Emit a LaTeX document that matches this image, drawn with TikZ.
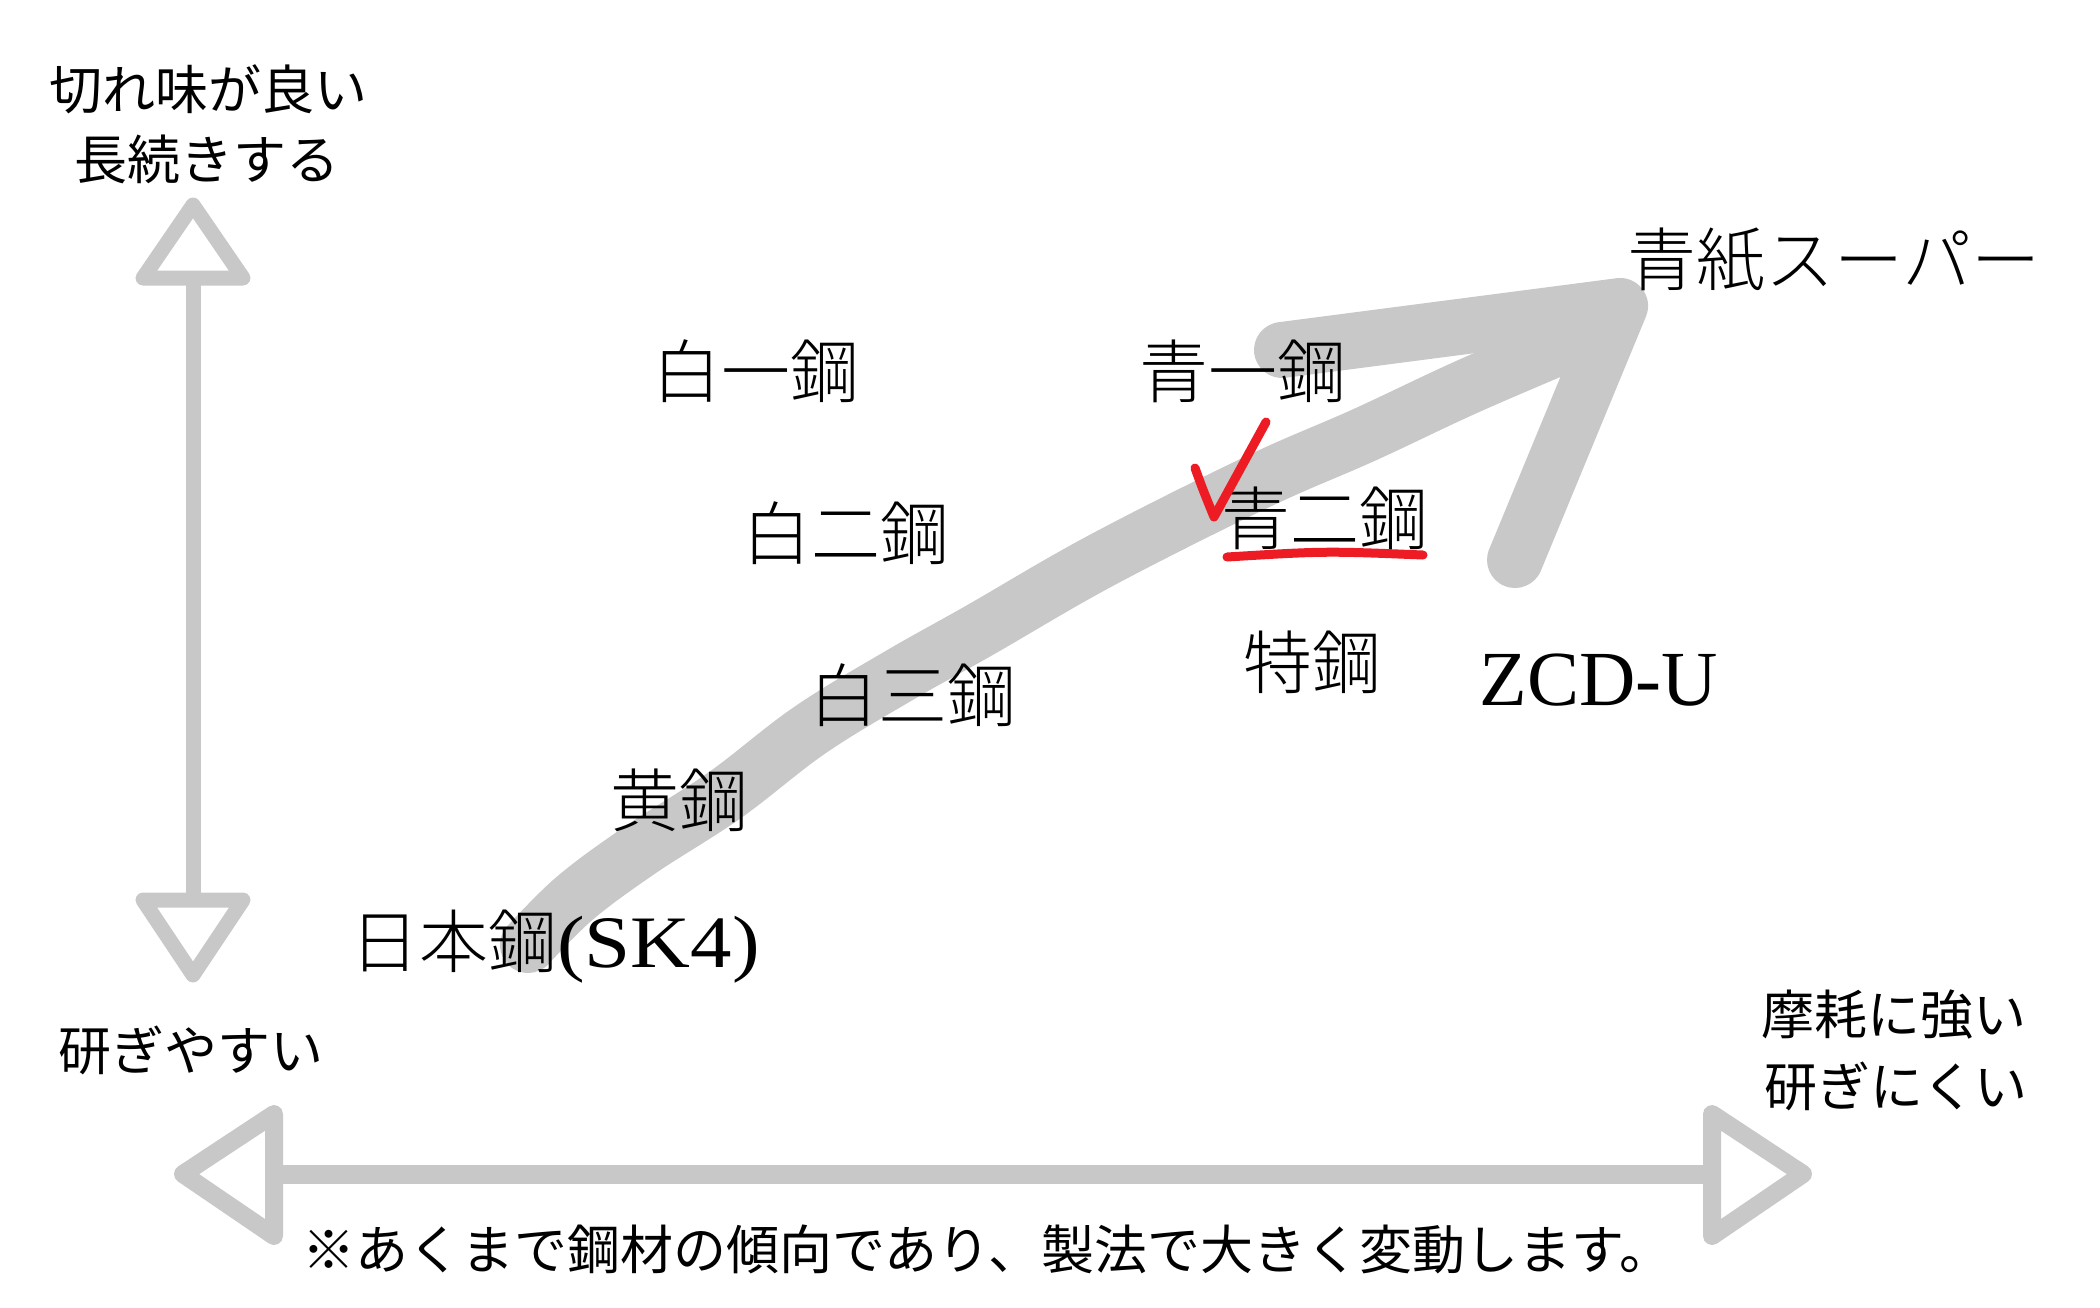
\documentclass[tikz,border=0pt]{standalone}
\usepackage{fontspec}
\newfontfamily\jp{Noto Sans CJK JP}
\newfontfamily\jpl{Noto Sans CJK JP}[UprightFont=* Light]
\newfontfamily\lat{Liberation Serif}
\newfontfamily\latw{Liberation Serif}[FakeStretch=1.12]
\definecolor{brush}{RGB}{200,200,200}
\definecolor{redmark}{RGB}{237,28,36}
\begin{document}
\begin{tikzpicture}[x=1pt,y=-1pt,
  axisline/.style={draw=brush,line width=#1,line cap=butt},
  headtri/.style={draw=brush,fill=white,line width=#1,line join=round},
  notetext/.style={font=\jp\fontsize{53}{60}\selectfont,inner sep=0},
  steeltext/.style={font=\jpl\fontsize{69}{80}\selectfont,inner sep=0},
  brushstroke/.style={draw=brush,line width=56,line cap=round,line join=round},
  redpen/.style={draw=redmark,line width=9,line cap=round,line join=round}]
\useasboundingbox (0,0) rectangle (2100,1307);

% ---------- vertical axis ----------
\coordinate (vtop) at (193,278);
\coordinate (vbot) at (193,900);
\draw[axisline=15] (vtop) -- (vbot);
\draw[headtri=15] (193,205) -- (243,278) -- (143,278) -- cycle;
\draw[headtri=15] (193,975) -- (243,900) -- (143,900) -- cycle;

% ---------- horizontal axis ----------
\coordinate (hleft) at (274,1174);
\coordinate (hright) at (1712,1174);
\draw[axisline=19] (hleft) -- (hright);
\draw[headtri=18] (183,1174) -- (274,1114) -- (274,1236) -- cycle;
\draw[headtri=18] (1803,1174) -- (1712,1114) -- (1712,1236) -- cycle;

% ---------- brush arrow ----------
\draw[brushstroke] plot[smooth,tension=0.6] coordinates {(528,945) (575,898) (640,850) (725,795) (810,730) (900,675) (980,630) (1102,560) (1257,482) (1364,435) (1471,385) (1595,332)};
\coordinate (armL) at (1282,350);
\coordinate (apex) at (1620,306);
\coordinate (armB) at (1515,560);
\draw[brushstroke] (armL) -- (apex) -- (armB);

% ---------- axis labels ----------
\node[notetext] (good) at (208,89) {切れ味が良い};
\node[notetext] (long) at (207,159) {長続きする};
\node[notetext] (easy) at (191,1050) {研ぎやすい};
\node[notetext] (wear) at (1894,1015) {摩耗に強い};
\node[notetext] (hard) at (1896,1086) {研ぎにくい};
\node[notetext,anchor=west] (note) at (302,1249) {※あくまで鋼材の傾向であり、製法で大きく変動します。};

% ---------- steel labels ----------
\node[steeltext] (w1) at (756,371) {白一鋼};
\node[steeltext] (w2) at (846,533) {白二鋼};
\node[steeltext] (w3) at (913,695) {白三鋼};
\node[steeltext] (yl) at (679,800) {黄鋼};
\node[steeltext,anchor=base west] (sk) at (350,967) {日本鋼{\latw\fontsize{74}{80}\selectfont(SK4)}};
\node[steeltext] (b1) at (1243,371) {青一鋼};
\node[steeltext] (b2) at (1325,518) {青二鋼};
\node[steeltext] (tk) at (1312,662) {特鋼};
\node[inner sep=0,font=\lat\fontsize{78}{80}\selectfont] (zcd) at (1599,680) {ZCD-U};
\node[steeltext] (bs) at (1834,260) {青紙スーパー};

% ---------- red marks ----------
\coordinate (c1) at (1195,468);
\coordinate (c2) at (1214,517);
\coordinate (c3) at (1266,422);
\draw[redpen] (c1) .. controls (1203,490) .. (c2) -- (c3);
\coordinate (u1) at (1227,557);
\coordinate (u2) at (1423,555);
\draw[redpen] (u1) .. controls (1325,551) .. (u2);
\end{tikzpicture}
\end{document}
